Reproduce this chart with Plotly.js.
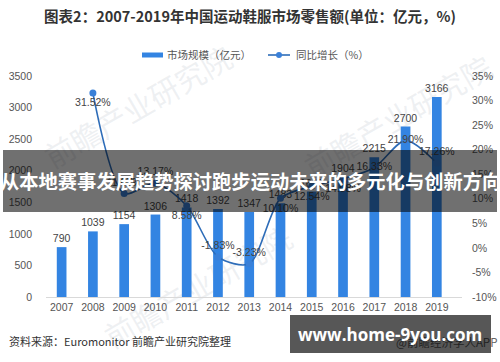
<!DOCTYPE html>
<html>
<head>
<meta charset="utf-8">
<script src="https://cdn.plot.ly/plotly-3.0.1.min.js"></script>
<style>
html,body{margin:0;padding:0;background:#fff;}
#chart{width:500px;height:362px;}
</style>
</head>
<body>
<div id="chart"></div>
<script>
var years = ['2007','2008','2009','2010','2011','2012','2013','2014','2015','2016','2017','2018','2019'];
var marketSize = [790, 1039, 1154, 1306, 1418, 1392, 1347, 1483, 1669, 1904, 2215, 2700, 3166];
var growthYears = ['2008','2009','2010','2011','2012','2013','2014','2015','2016','2017','2018','2019'];
var growth = [31.52, 11.07, 13.17, 8.58, -1.83, -3.23, 10.10, 12.54, 14.08, 16.33, 21.90, 17.26];
var growthLabelPos = ['bottom center','top center','top center','bottom center','top center','top center',
  'bottom center','bottom center','bottom center','middle center','middle center','top center'];
var leftTicks = [0, 500, 1000, 1500, 2000, 2500, 3000, 3500];
var rightTicks = [-10, -5, 0, 5, 10, 15, 20, 25, 30, 35];
var seriesNames = ['市场规模（亿元）', '同比增长（%）'];

var numFont = 'Liberation Sans, Arial, sans-serif';
var cjkFont = 'Noto Sans CJK SC, sans-serif';
var barColor = '#3384e2';
var lineColor = '#2d6cb8';
var markerColor = '#3a80d8';

var bars = {
  type: 'bar', name: seriesNames[0], x: years, y: marketSize,
  marker: {color: barColor}, width: 0.31,
  text: marketSize.map(String), textposition: 'outside', cliponaxis: false, constraintext: 'none',
  textfont: {family: numFont, size: 10.5, color: '#444'},
  hoverinfo: 'skip'
};
var line = {
  type: 'scatter', mode: 'lines+markers+text', name: seriesNames[1],
  x: growthYears, y: growth, yaxis: 'y2',
  line: {color: lineColor, width: 1.6, shape: 'spline', smoothing: 0.8},
  marker: {color: markerColor, size: 7},
  text: growth.map(function(v){return v.toFixed(2) + '%';}),
  textposition: growthLabelPos, cliponaxis: false,
  textfont: {family: numFont, size: 10.5, color: '#444'},
  hoverinfo: 'skip'
};

function px(x){return (x - 46) / 416;}
function py(y){return (297 - y) / 221;}

function watermark(cx, cy){
  return {type: 'rect', xref: 'paper', yref: 'paper', x0: px(cx - 60), x1: px(cx + 60), y0: py(cy + 20), y1: py(cy - 20),
    fillcolor: 'rgba(0,0,0,0)', line: {width: 0}, layer: 'below',
    label: {text: '前瞻产业研究院', textangle: -30, textposition: 'middle center',
      font: {family: cjkFont, size: 30, color: 'rgba(180,190,200,0.22)'}}};
}

var layout = {
  width: 500, height: 362,
  margin: {l: 46, r: 38, t: 76, b: 65, autoexpand: false},
  paper_bgcolor: '#fff', plot_bgcolor: 'rgba(0,0,0,0)',
  showlegend: false,
  title: {text: '<b>图表2：2007-2019年中国运动鞋服市场零售额(单位：亿元，%)</b>',
    x: 0.5, xanchor: 'center', y: 1 - 17/362, yanchor: 'middle',
    font: {family: cjkFont, size: 14.5, color: '#333'}},
  xaxis: {type: 'category', showgrid: false, showline: true, linecolor: '#d9d9d9', linewidth: 1,
    ticks: '', tickangle: 0, tickfont: {family: numFont, size: 10.5, color: '#555'}, fixedrange: true},
  yaxis: {range: [0, 3500], tickvals: leftTicks, showgrid: false, zeroline: false, showline: false,
    ticks: '', tickfont: {family: numFont, size: 10.5, color: '#555'}, ticklabelstandoff: 13, fixedrange: true},
  yaxis2: {range: [-10, 35], tickvals: rightTicks, ticktext: rightTicks.map(function(v){return v + '%';}),
    overlaying: 'y', side: 'right', showgrid: false, zeroline: false, showline: false,
    ticks: '', tickfont: {family: numFont, size: 10.5, color: '#555'}, ticklabelstandoff: 9, fixedrange: true},
  shapes: [
    watermark(140, 110), watermark(400, 120), watermark(200, 290),
    // legend swatches
    {type: 'rect', xref: 'paper', yref: 'paper', x0: px(142), x1: px(163), y0: py(57.5), y1: py(52.5),
      fillcolor: barColor, line: {width: 0}},
    {type: 'line', xref: 'paper', yref: 'paper', x0: px(268), x1: px(290), y0: py(55), y1: py(55),
      line: {color: lineColor, width: 1.6}},
    {type: 'circle', xref: 'paper', yref: 'paper', x0: px(276), x1: px(282), y0: py(58), y1: py(52),
      fillcolor: markerColor, line: {width: 0}},
    // overlay banner
    {type: 'rect', xref: 'paper', yref: 'paper', x0: px(3), x1: px(497), y0: py(212), y1: py(150),
      fillcolor: 'rgba(0,0,0,0.56)', line: {width: 0}, layer: 'above'},
    {type: 'rect', xref: 'paper', yref: 'paper', x0: px(392), x1: px(500), y0: py(350), y1: py(336),
      fillcolor: 'rgba(0,0,0,0)', line: {width: 0}, layer: 'above',
      label: {text: '@前瞻经济学人APP', font: {family: cjkFont, size: 11.5, color: '#666'},
        textposition: 'middle left', padding: 1}},
    {type: 'rect', xref: 'paper', yref: 'paper', x0: px(290), x1: px(491), y0: py(353), y1: py(315),
      fillcolor: 'rgba(0,0,0,0.66)', line: {width: 0}, layer: 'above'}
  ],
  annotations: [
    {text: seriesNames[0], xref: 'paper', yref: 'paper', x: px(165), y: py(55), xanchor: 'left', yanchor: 'middle',
      showarrow: false, font: {family: cjkFont, size: 10.5, color: '#555'}},
    {text: seriesNames[1], xref: 'paper', yref: 'paper', x: px(294), y: py(55), xanchor: 'left', yanchor: 'middle',
      showarrow: false, font: {family: cjkFont, size: 10.5, color: '#555'}},
    {text: '<b>从本地赛事发展趋势探讨跑步运动未来的多元化与创新方向</b>', xref: 'paper', yref: 'paper',
      x: px(250), y: py(181), xanchor: 'center', yanchor: 'middle', showarrow: false,
      font: {family: cjkFont, size: 19.3, color: '#fff'}},
    {text: '资料来源：Euromonitor 前瞻产业研究院整理', xref: 'paper', yref: 'paper',
      x: px(7), y: py(341), xanchor: 'left', yanchor: 'middle', showarrow: false,
      font: {family: cjkFont, size: 11, color: '#333'}},
    {text: '<b>www.home-9you.com</b>', xref: 'paper', yref: 'paper',
      x: px(390), y: py(334), xanchor: 'center', yanchor: 'middle', showarrow: false,
      font: {family: 'Open Sans, DejaVu Sans, sans-serif', size: 17, color: '#fff'}}
  ]
};

Plotly.newPlot('chart', [bars, line], layout, {staticPlot: true, displayModeBar: false});
</script>
</body>
</html>
